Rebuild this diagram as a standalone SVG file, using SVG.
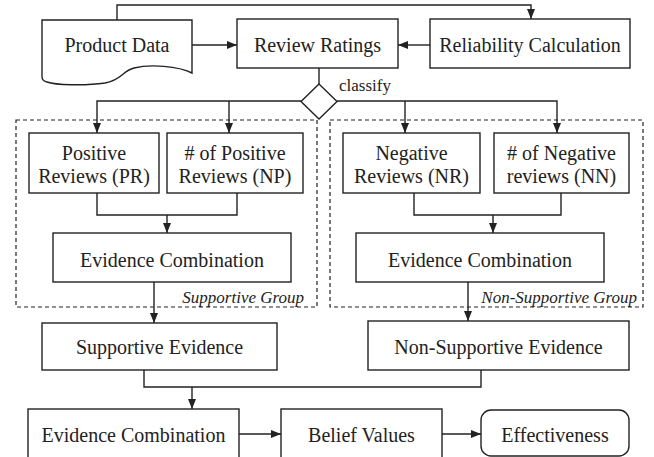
<svg xmlns="http://www.w3.org/2000/svg" width="654" height="457" viewBox="0 0 654 457">
<defs>
<marker id="ah" markerUnits="userSpaceOnUse" markerWidth="11" markerHeight="9" refX="10" refY="4" orient="auto">
<path d="M0,0 L10,4 L0,8 Z" fill="#222"/>
</marker>
<style>
.b{fill:#fff;stroke:#222;stroke-width:1.4}
.c{fill:none;stroke:#222;stroke-width:1.4}
.a{fill:none;stroke:#222;stroke-width:1.4;marker-end:url(#ah)}
.g{fill:none;stroke:#222;stroke-width:1.2;stroke-dasharray:4 3}
text{font-family:'Liberation Serif','Times New Roman','DejaVu Serif',serif;fill:#222}
.t{font-size:20px;text-anchor:middle}
.s{font-size:17px}
.i{font-size:17px;font-style:italic;text-anchor:end}
</style>
</defs>
<rect width="654" height="457" fill="#fff"/>
<g id="groups">
<rect class="g" x="16" y="120" width="301" height="187"/>
<text class="i" x="304" y="303">Supportive Group</text>
<rect class="g" x="330" y="120" width="313" height="187"/>
<text class="i" x="637" y="303">Non-Supportive Group</text>
</g>
<g id="connectors">
<path class="a" d="M117,20 V5 H531 V19"/>
<path class="a" d="M192,45 H237"/>
<path class="a" d="M430,45 H398"/>
<path class="c" d="M319,68 V84"/>
<path class="a" d="M301,101 H97 V133"/>
<path class="a" d="M229,101 V133"/>
<path class="a" d="M337,101 H557 V133"/>
<path class="a" d="M405,101 V133"/>
<path class="c" d="M97,193 V215 H237 V193"/>
<path class="a" d="M167,215 V233"/>
<path class="c" d="M414,193 V215 H561 V193"/>
<path class="a" d="M493,215 V233"/>
<path class="a" d="M154,282 V323"/>
<path class="a" d="M468,282 V321"/>
<path class="c" d="M144,370 V387 H481 V370"/>
<path class="a" d="M192,387 V409"/>
<path class="a" d="M239,434 H281"/>
<path class="a" d="M442,434 H481"/>
<text class="s" x="339" y="91" font-family="Liberation Serif, serif">classify</text>
</g>
<g id="product-data">
<path class="b" d="M42,20 H192 V73 C178,66 150,64 134,68 C122,71 122,80 105,83 C85,86 55,85 47,82 C43,81 42,79 42,77 Z"/>
<text class="t" x="117" y="52">Product Data</text>
</g>
<g id="review-ratings">
<rect class="b" x="237" y="19" width="161" height="49"/>
<text class="t" x="317.5" y="52">Review Ratings</text>
</g>
<g id="reliability-calculation">
<rect class="b" x="430" y="19" width="200" height="49"/>
<text class="t" x="530" y="52">Reliability Calculation</text>
</g>
<g id="classify-diamond">
<path class="b" d="M319,84 L337,101.5 L319,119 L301,101.5 Z"/>
</g>
<g id="positive-reviews">
<rect class="b" x="29" y="133" width="130" height="60"/>
<text class="t" x="94" y="160">Positive</text>
<text class="t" x="94" y="183">Reviews (PR)</text>
</g>
<g id="num-positive-reviews">
<rect class="b" x="167" y="133" width="136" height="60"/>
<text class="t" x="235" y="160"># of Positive</text>
<text class="t" x="235" y="183">Reviews (NP)</text>
</g>
<g id="negative-reviews">
<rect class="b" x="343" y="133" width="137" height="60"/>
<text class="t" x="411.5" y="160">Negative</text>
<text class="t" x="411.5" y="183">Reviews (NR)</text>
</g>
<g id="num-negative-reviews">
<rect class="b" x="494" y="133" width="135" height="60"/>
<text class="t" x="561.5" y="160"># of Negative</text>
<text class="t" x="561.5" y="183">reviews (NN)</text>
</g>
<g id="evidence-combination-positive">
<rect class="b" x="53" y="233" width="238" height="49"/>
<text class="t" x="172" y="267">Evidence Combination</text>
</g>
<g id="evidence-combination-negative">
<rect class="b" x="356" y="233" width="248" height="49"/>
<text class="t" x="480" y="267">Evidence Combination</text>
</g>
<g id="supportive-evidence">
<rect class="b" x="42" y="323" width="235" height="47"/>
<text class="t" x="159.5" y="354">Supportive Evidence</text>
</g>
<g id="non-supportive-evidence">
<rect class="b" x="368" y="321" width="261" height="49"/>
<text class="t" x="498.5" y="354">Non-Supportive Evidence</text>
</g>
<g id="evidence-combination-final">
<rect class="b" x="28" y="409" width="211" height="60"/>
<text class="t" x="133.5" y="442">Evidence Combination</text>
</g>
<g id="belief-values">
<rect class="b" x="281" y="409" width="161" height="60"/>
<text class="t" x="361.5" y="442">Belief Values</text>
</g>
<g id="effectiveness">
<rect class="b" x="481" y="410" width="148" height="46" rx="10" ry="10"/>
<text class="t" x="555" y="442">Effectiveness</text>
</g>
</svg>
